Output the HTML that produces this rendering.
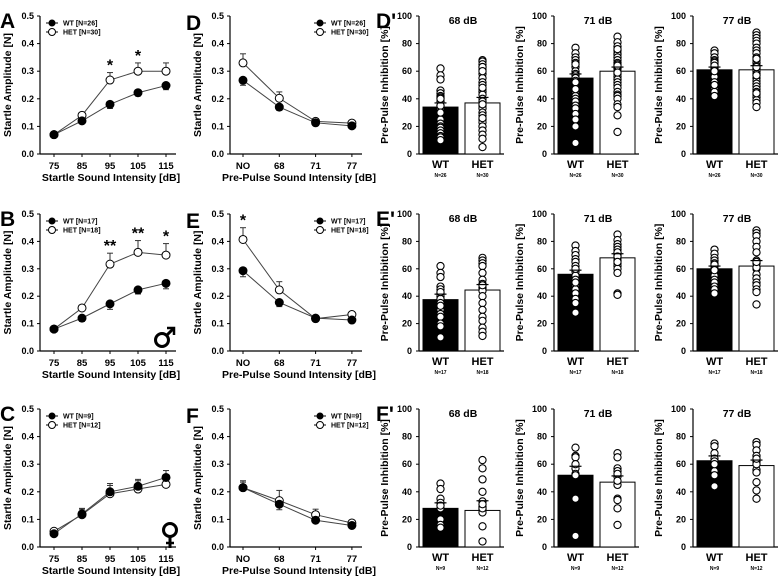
<!DOCTYPE html>
<html><head><meta charset="utf-8"><style>
body{margin:0;background:#fff}
svg{display:block;font-family:"Liberation Sans",Arial,sans-serif;font-weight:bold}
</style></head><body>
<svg id="fig" width="784" height="576" viewBox="0 0 784 576" xmlns="http://www.w3.org/2000/svg"></svg>
<script>
// ---- data ----
const intensityCats = ['75','85','95','105','115'];
const prepulseCats = ['NO','68','71','77'];
const ampTicks = ['0.0','0.1','0.2','0.3','0.4','0.5'];
const pctTicks = ['0','20','40','60','80','100'];
const barTitles = ['68 dB','71 dB','77 dB'];

const aWT=[.07,.12,.18,.222,.248], aWTe=[.005,.01,.015,.012,.015];
const aHET=[.07,.14,.268,.30,.30], aHETe=[.005,.01,.027,.03,.03];
const aStars=['','','*','*',''];
const dWT=[.267,.17,.113,.102], dWTe=[.018,.012,.008,.006];
const dHET=[.33,.202,.118,.112], dHETe=[.033,.023,.008,.006];
const dStars=['','','',''];
const bWT=[.08,.12,.172,.223,.247], bWTe=[.005,.012,.02,.015,.02];
const bHET=[.08,.157,.317,.36,.35], bHETe=[.005,.01,.04,.043,.042];
const bStars=['','','**','**','*'];
const eWT=[.293,.177,.12,.113], eWTe=[.022,.015,.008,.006];
const eHET=[.407,.223,.118,.133], eHETe=[.043,.03,.01,.008];
const eStars=['*','','',''];
const cWT=[.048,.12,.2,.22,.252], cWTe=[.005,.02,.03,.025,.025];
const cHET=[.057,.117,.193,.21,.227], cHETe=[.005,.02,.03,.03,.032];
const cStars=['','','','',''];
const fWT=[.215,.155,.097,.078], fWTe=[.02,.02,.01,.005];
const fHET=[.215,.168,.117,.087], fHETe=[.025,.037,.02,.008];
const fStars=['','','',''];

const r1Means=[[34,37],[55,60],[61,61]], r1Sem=[[3,4],[3,3],[2,3]];
const r2Means=[[37.5,44.5],[56,68],[60,62]], r2Sem=[[4,4],[3,3],[2,4]];
const r3Means=[[28,26.5],[52,47],[62.5,59]], r3Sem=[[4,7],[6.5,4.5],[3.5,4]];
const r1Dots=[
 [[62,57,54,46,44,42,41,40,38,35,33,30,28,26,25,22,20,19,17,15,13,12,10,35,30,40],
  [68,67,65,63,61,58,55,52,50,47,45,43,40,38,35,33,30,28,25,23,20,17,14,11,5,63,60,48,36,26]],
 [[77,73,70,68,66,63,60,58,57,55,53,50,48,45,42,40,38,35,33,29,25,20,8,65,52,47],
  [85,81,78,75,73,72,70,68,66,65,63,62,60,58,56,54,52,50,48,45,43,42,40,36,34,28,16,76,64,59]],
 [[75,73,70,68,67,65,63,62,60,58,57,55,53,51,49,47,45,42,61,59,56,66,64,52,50,60],
  [88,86,84,82,80,77,75,73,70,68,66,64,62,60,58,55,53,51,49,47,45,43,41,39,37,34,57,63,69,44]]];
const r2Dots=[
 [[62,57,54,47,45,42,40,38,35,30,27,25,20,18,10,33,43],
  [68,66,64,62,57,52,49,46,44,40,35,30,25,22,17,14,11,48]],
 [[77,73,70,67,65,62,58,55,52,48,45,42,38,35,28,60,50],
  [85,81,78,76,74,72,70,68,66,64,62,60,57,42,41,72,69,65]],
 [[74,71,68,66,64,62,60,58,56,55,52,50,47,45,42,63,59],
  [88,86,84,80,76,72,66,64,60,56,53,50,48,45,43,34,61,65]]];
const r3Dots=[
 [[46,42,35,32,28,20,16,14,30],[63,57,49,40,29,27,15,4,33,25,28,31]],
 [[72,66,65,57,53,52,35,8,60],[68,65,57,55,51,45,35,34,28,16,53,48]],
 [[75,73,68,64,55,52,44,62,60],[76,74,70,66,62,56,54,47,41,35,60,64]]];

// ---- drawing ----
const svg=document.getElementById('fig');
const NS='http://www.w3.org/2000/svg';
function el(tag,attrs,parent,text){
  const e=document.createElementNS(NS,tag);
  for(const k in attrs) e.setAttribute(k,attrs[k]);
  if(text!==undefined) e.textContent=text;
  (parent||svg).appendChild(e); return e;
}
function txt(x,y,s,size,anchor,parent,name,rot){
  const t=el('text',{x:x,y:y,'font-size':size,'text-anchor':anchor||'middle',fill:'#000'},parent,s);
  if(rot) t.setAttribute('transform','rotate(-90 '+x+' '+y+')');
  
  
  return t;
}
const rows=[{top:16,bot:154},{top:214,bot:351},{top:409,bot:547}];

function linePanel(g,top,bot,x0,xs,x1,cats,wt,wte,het,hete,stars,xtitle,legendLeft,leg){
  const y=v=>bot-(v/0.5)*(bot-top);
  const xc=i=>xs+i*((cats.length===5?28:36.3));
  el('line',{x1:x0,y1:top,x2:x0,y2:bot,stroke:'#000','stroke-width':1.2},g);
  el('line',{x1:x0,y1:bot,x2:x1,y2:bot,stroke:'#000','stroke-width':1.2},g);
  ampTicks.forEach((t,i)=>{const yy=y(i*0.1);
    el('line',{x1:x0-3,y1:yy,x2:x0,y2:yy,stroke:'#000'},g);
    txt(x0-6,yy+3,t,9,'end',g,'y-tick-label');});
  cats.forEach((c,i)=>{el('line',{x1:xc(i),y1:bot,x2:xc(i),y2:bot+3,stroke:'#000'},g);
    txt(xc(i),bot+15,c,9.5,'middle',g,'x-tick-label');});
  txt((x0+x1)/2+3,bot+27,xtitle,10.5,'middle',g,'x-axis-title');
  txt(x0-29,(top+bot)/2,'Startle Amplitude [N]',10.5,'middle',g,'y-axis-title',true);
  [[het,hete,'#fff','het'],[wt,wte,'#000','wt']].forEach(([d,e,fill,nm])=>{
    const pts=d.map((v,i)=>xc(i)+','+y(v)).join(' ');
    el('polyline',{points:pts,fill:'none',stroke:'#444','stroke-width':1},g);
    d.forEach((v,i)=>{const up=nm==='het'||d[i]>=het[i];
      const ye=up?y(v+e[i]):y(v-e[i]);
      el('line',{x1:xc(i),y1:y(v),x2:xc(i),y2:ye,stroke:'#333'},g);
      el('line',{x1:xc(i)-3,y1:ye,x2:xc(i)+3,y2:ye,stroke:'#333'},g);});
    d.forEach((v,i)=>{const c=el('circle',{cx:xc(i),cy:y(v),r:4,fill:fill,stroke:'#000','stroke-width':1},g);
      });
  });
  stars.forEach((s,i)=>{if(s){const top2=y(het[i]+hete[i]);txt(xc(i),top2-2,s,16,'middle',g,'significance-star');}});
  const lx=legendLeft?x0+6:x1-48, ly=top+7;
  el('line',{x1:lx,y1:ly,x2:lx+12,y2:ly,stroke:'#000'},g);
  el('circle',{cx:lx+6,cy:ly,r:3.5,fill:'#000'},g);
  txt(lx+17,ly+2.5,leg[0],7,'start',g,'legend-wt');
  el('line',{x1:lx,y1:ly+9,x2:lx+12,y2:ly+9,stroke:'#000'},g);
  el('circle',{cx:lx+6,cy:ly+9,r:3.5,fill:'#fff',stroke:'#000'},g);
  txt(lx+17,ly+11.5,leg[1],7,'start',g,'legend-het');
}

function barPanel(g,top,bot,x0,means,sems,dots,title,ns){
  const y=v=>bot-(v/100)*(bot-top);
  el('line',{x1:x0,y1:top,x2:x0,y2:bot,stroke:'#000','stroke-width':1.2},g);
  el('line',{x1:x0,y1:bot,x2:x0+85,y2:bot,stroke:'#000','stroke-width':1.2},g);
  pctTicks.forEach((t,i)=>{const yy=y(i*20);
    el('line',{x1:x0-3,y1:yy,x2:x0,y2:yy,stroke:'#000'},g);
    txt(x0-7,yy+3,t,9,'end',g,'y-tick-label');});
  txt(x0-31,(top+bot)/2,'Pre-Pulse Inhibition [%]',10.5,'middle',g,'y-axis-title',true);
  txt(x0+44,top+8,title,10.5,'middle',g,'panel-title');
  ['WT','HET'].forEach((lab,k)=>{
    const bx=x0+4+k*42, cx=bx+17.5;
    const r=el('rect',{x:bx,y:y(means[k]),width:35,height:bot-y(means[k]),fill:k?'#fff':'#000',stroke:'#000','stroke-width':1},g);
    
    const ye=y(means[k]+sems[k]);
    el('line',{x1:cx,y1:y(means[k]),x2:cx,y2:ye,stroke:'#000'},g);
    dots[k].forEach(v=>{const c=el('circle',{cx:cx,cy:y(v),r:3.6,fill:'#fff',stroke:'#000','stroke-width':1.1},g);
      });
    el('line',{x1:cx-6,y1:ye,x2:cx+6,y2:ye,stroke:'#000','stroke-width':1.2},g);
    txt(cx,bot+14,lab,11,'middle',g,'x-tick-label');
    txt(cx,bot+23,'N='+ns[k],5,'middle',g,'n-label');
  });
}

const lineSets=[
 [aWT,aWTe,aHET,aHETe,aStars,dWT,dWTe,dHET,dHETe,dStars,['WT [N=26]','HET [N=30]'],['A','D',"D'"],r1Means,r1Sem,r1Dots,[26,30]],
 [bWT,bWTe,bHET,bHETe,bStars,eWT,eWTe,eHET,eHETe,eStars,['WT [N=17]','HET [N=18]'],['B','E',"E'"],r2Means,r2Sem,r2Dots,[17,18]],
 [cWT,cWTe,cHET,cHETe,cStars,fWT,fWTe,fHET,fHETe,fStars,['WT [N=9]','HET [N=12]'],['C','F',"F'"],r3Means,r3Sem,r3Dots,[9,12]]];
lineSets.forEach((s,r)=>{
  const {top,bot}=rows[r];
  const g1=el('g',{});
  linePanel(g1,top,bot,40,54,176,intensityCats,s[0],s[1],s[2],s[3],s[4],'Startle Sound Intensity [dB]',true,s[10]);
  const g2=el('g',{});
  linePanel(g2,top,bot,230,243,362,prepulseCats,s[5],s[6],s[7],s[8],s[9],'Pre-Pulse Sound Intensity [dB]',false,s[10]);
  txt(0,top+12,s[11][0],21,'start',svg,'panel-letter');
  txt(186,top+14,s[11][1],21,'start',svg,'panel-letter');
  txt(376,top+12,s[11][2],21,'start',svg,'panel-letter');
  [419,554,693].forEach((x0,k)=>{
    const g=el('g',{});
    barPanel(g,top,bot,x0,s[12][k],s[13][k],s[14][k],barTitles[k],s[15]);
  });
});
// gender symbols
const male=el('g',{fill:'none',stroke:'#000','stroke-width':3});

el('circle',{cx:162,cy:340,r:6.5},male);
el('line',{x1:167,y1:335,x2:173,y2:329},male);
el('polyline',{points:'167,328 174,328 174,335','stroke-width':2.5},male);
const fem=el('g',{fill:'none',stroke:'#000','stroke-width':3});

el('circle',{cx:170,cy:530,r:6.5},fem);
el('line',{x1:170,y1:537,x2:170,y2:548},fem);
el('line',{x1:166,y1:543,x2:174,y2:543,'stroke-width':2.5},fem);
</script>
</body></html>
